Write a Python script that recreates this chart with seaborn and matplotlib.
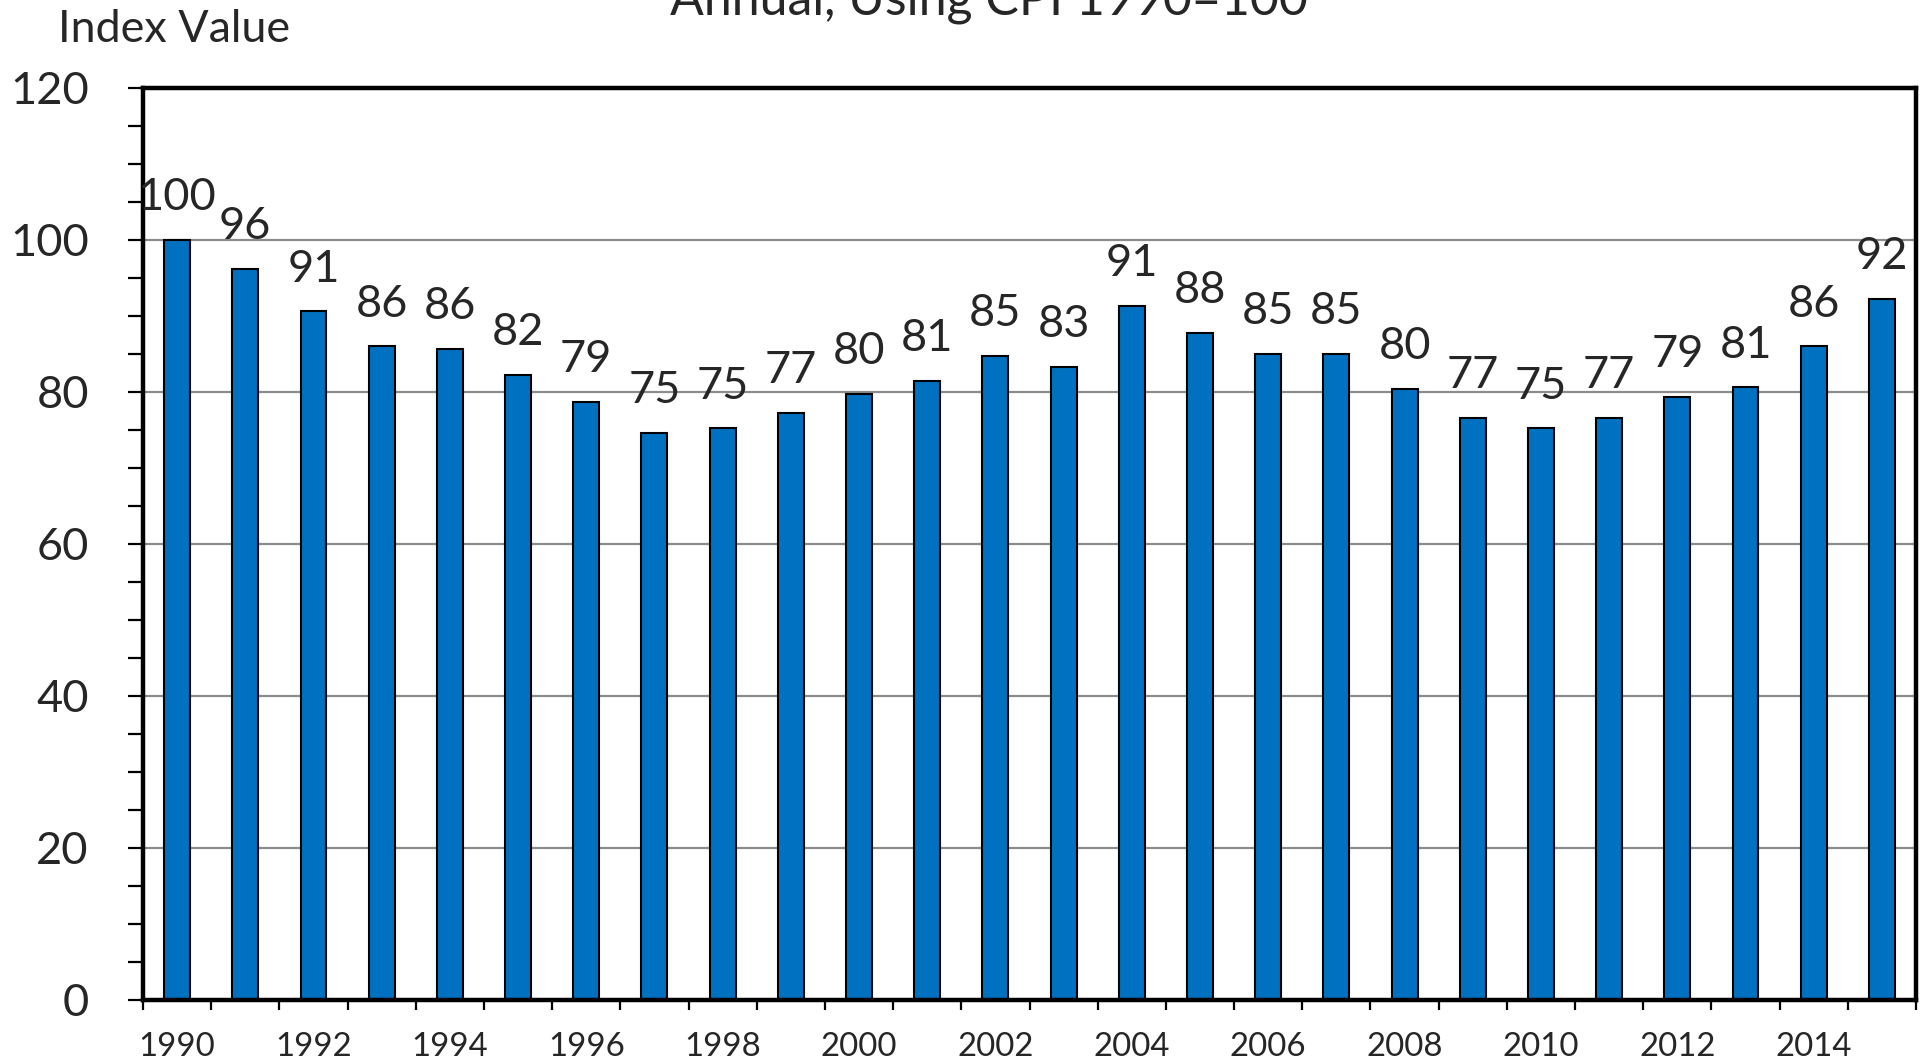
import matplotlib
matplotlib.use("Agg")
import matplotlib.pyplot as plt
import numpy as np
import pandas as pd
import seaborn as sns

years = list(range(1990, 2016))
values = [100.0, 96.2, 90.6, 86.0, 85.7, 82.2, 78.7, 74.6, 75.2, 77.3,
          79.8, 81.4, 84.7, 83.3, 91.3, 87.8, 85.0, 85.0, 80.4, 76.6,
          75.2, 76.6, 79.4, 80.6, 86.0, 92.3]
value_labels = ["100", "96", "91", "86", "86", "82", "79", "75", "75", "77",
                "80", "81", "85", "83", "91", "88", "85", "85", "80", "77",
                "75", "77", "79", "81", "86", "92"]
x_tick_labels = [str(y) for y in years[::2]]
y_ticks = [0, 20, 40, 60, 80, 100, 120]
title_text = "Annual, Using CPI 1990=100"
y_title = "Index Value"

sns.set_style("white")
plt.rcParams["font.family"] = ["Lato", "DejaVu Sans"]

W, H = 1926, 1062
fig = plt.figure(figsize=(W / 100, H / 100), dpi=100)
ax = fig.add_axes([143 / W, 1 - 1000 / H, (1916 - 143) / W, (1000 - 88) / H])

df = pd.DataFrame({"Year": [str(y) for y in years], "Index": values})
sns.barplot(data=df, x="Year", y="Index", color="#0070C0", saturation=1,
            width=0.38, edgecolor="black", linewidth=1.5, ax=ax, zorder=3)

ax.set_xlim(-0.5, len(years) - 0.5)
ax.set_ylim(0, 120)
ax.set_xlabel("")
ax.set_ylabel("")

# x axis: labels every 2 years at bar centres, ticks at category boundaries
ax.set_xticks(np.arange(0, len(years), 2))
ax.set_xticklabels(x_tick_labels, fontsize=23.8)
ax.set_xticks(np.arange(-0.5, len(years), 1), minor=True)
ax.tick_params(axis="x", which="major", length=0, pad=23)
ax.tick_params(axis="x", which="minor", length=7.5, width=1.6, direction="out",
               color="black", bottom=True)

# y axis
ax.set_yticks(y_ticks)
ax.set_yticklabels([str(t) for t in y_ticks], fontsize=32.5)
ax.set_yticks(np.arange(0, 121, 5), minor=True)
ax.tick_params(axis="y", which="both", length=11, width=1.6, direction="out",
               color="black", left=True, pad=28)

ax.yaxis.grid(True, which="major", color="#8c8c8c", linewidth=1.6, zorder=0)
ax.xaxis.grid(False)
ax.set_axisbelow(True)

for side in ["left", "right", "top", "bottom"]:
    ax.spines[side].set_visible(True)
    ax.spines[side].set_color("black")
    ax.spines[side].set_linewidth(3.2)
    ax.spines[side].set_zorder(5)

# value labels above bars
for patch, lbl in zip(ax.containers[0], value_labels):
    ax.annotate(lbl, (patch.get_x() + patch.get_width() / 2, patch.get_height()),
                xytext=(0, 21.5), textcoords="offset points", ha="center",
                va="baseline", fontsize=32.5, zorder=6, annotation_clip=False)

fig.text(989 / W, 1 - 15 / H, title_text, ha="center", va="baseline", fontsize=36)
fig.text(58 / W, 1 - 42 / H, y_title, ha="left", va="baseline", fontsize=32.3)

fig.savefig("out.png", dpi=100)
